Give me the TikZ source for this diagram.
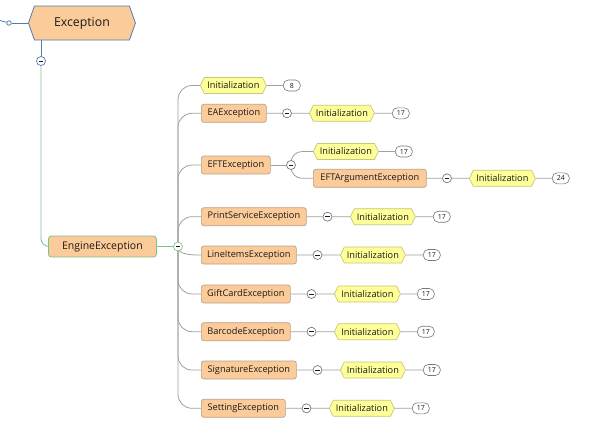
\documentclass[tikz,border=0pt]{standalone}
\usepackage{fontspec}
\setmainfont{Open Sans}
\usetikzlibrary{shapes.symbols,backgrounds}
\definecolor{peach}{RGB}{252,203,154}
\definecolor{oborder}{RGB}{185,160,135}
\definecolor{yfill}{RGB}{255,255,153}
\definecolor{yborder}{RGB}{200,198,120}
\definecolor{bborder}{RGB}{120,120,120}
\definecolor{gline}{RGB}{160,160,160}
\definecolor{grline}{RGB}{120,196,140}
\definecolor{bline}{RGB}{80,125,175}
\definecolor{txt}{RGB}{26,26,26}
\begin{document}
\begin{tikzpicture}[x=1bp,y=-1bp,
  every node/.style={font=\fontsize{9.2bp}{11bp}\selectfont, text=txt},
  obox/.style={rectangle, rounded corners=2.5bp, draw=oborder, fill=peach, minimum height=18bp, inner sep=0pt, anchor=west, line width=0.7bp},
  yhex/.style={signal, signal to=east and west, signal pointer angle=128, draw=yborder, fill=yfill, minimum height=16bp, inner sep=0pt, anchor=west, line width=0.7bp},
  badge/.style={rectangle, rounded corners=5bp, draw=bborder, fill=white, minimum width=17bp, minimum height=11bp, inner sep=0pt, font=\fontsize{7bp}{8bp}\selectfont, anchor=west, line width=0.6bp},
  mcirc/.style={circle, draw=bborder, fill=white, minimum size=9bp, inner sep=0pt, line width=0.7bp,
    path picture={\draw[line width=0.9bp, txt] ([xshift=-2.2bp]path picture bounding box.center) -- ([xshift=2.2bp]path picture bounding box.center);}},
  conn/.style={draw=gline, line width=0.8bp},
  trunk/.style={conn, rounded corners=14bp}
]
\useasboundingbox (0,0) rectangle (591,428);

% root
\node[signal, signal to=east and west, signal pointer angle=141, draw=bline, fill=peach, minimum width=107bp, minimum height=34bp, inner sep=0pt, anchor=west, line width=0.8bp, font=\fontsize{12.3bp}{14bp}\selectfont] (exc) at (28,23) {Exception};
\node[circle, draw=bline, fill=white, minimum size=4.5bp, inner sep=0pt, line width=0.8bp] (oc) at (9,23) {};
\coordinate (lt) at (0,20.5);
\node[mcirc, draw=bline] (xc) at (41,61) {};
\node[rectangle, rounded corners=3bp, draw=grline, fill=peach, minimum width=108bp, minimum height=21bp, inner sep=0pt, anchor=west, line width=0.8bp, font=\fontsize{10.5bp}{12bp}\selectfont] (eng) at (48,246.5) {EngineException};
\node[mcirc, draw=grline] (ec) at (178,246.5) {};

% row 0
\node[yhex, minimum width=66bp] (i0) at (200,85.5) {Initialization};
\node[badge] (b0) at (283,85.5) {8};
% EA
\node[obox, minimum width=65bp] (ea) at (201,113.3) {EAException};
\node[mcirc] (c1) at (287,113.3) {};
\node[yhex, minimum width=65bp] (i1) at (309,113.3) {Initialization};
\node[badge] (b1) at (392,113.3) {17};
% EFT
\node[obox, minimum width=69bp] (eft) at (201,165) {EFTException};
\node[mcirc] (c2) at (291,165) {};
\node[yhex, minimum width=65bp] (i2) at (313,151.5) {Initialization};
\node[badge] (b2) at (395,151.5) {17};
\node[obox, minimum width=113bp] (efta) at (313,178.3) {EFTArgumentException};
\node[mcirc] (c3) at (447,178.3) {};
\node[yhex, minimum width=66bp] (i3) at (469,178.3) {Initialization};
\node[badge] (b3) at (552,178.3) {24};
% PrintService
\node[obox, minimum width=105bp] (ps) at (201,216.7) {PrintServiceException};
\node[mcirc] (c4) at (327.5,216.7) {};
\node[yhex, minimum width=65bp] (i4) at (350,216.7) {Initialization};
\node[badge] (b4) at (433,216.7) {17};
% LineItems
\node[obox, minimum width=95bp] (li) at (201,255) {LineItemsException};
\node[mcirc] (c5) at (317.5,255) {};
\node[yhex, minimum width=65bp] (i5) at (340,255) {Initialization};
\node[badge] (b5) at (423,255) {17};
% GiftCard
\node[obox, minimum width=89bp] (gc) at (201,294) {GiftCardException};
\node[mcirc] (c6) at (311.5,294) {};
\node[yhex, minimum width=66bp] (i6) at (334,294) {Initialization};
\node[badge] (b6) at (417,294) {17};
% Barcode
\node[obox, minimum width=89bp] (bc) at (201,331.7) {BarcodeException};
\node[mcirc] (c7) at (311.5,331.7) {};
\node[yhex, minimum width=66bp] (i7) at (334,331.7) {Initialization};
\node[badge] (b7) at (417,331.7) {17};
% Signature
\node[obox, minimum width=95bp] (sg) at (201,370) {SignatureException};
\node[mcirc] (c8) at (317.5,370) {};
\node[yhex, minimum width=65bp] (i8) at (340,370) {Initialization};
\node[badge] (b8) at (423,370) {17};
% Setting
\node[obox, minimum width=84bp] (st) at (201,408.3) {SettingException};
\node[mcirc] (c9) at (306.5,408.3) {};
\node[yhex, minimum width=65bp] (i9) at (329,408.3) {Initialization};
\node[badge] (b9) at (412,408.3) {17};

\begin{pgfonlayer}{background}
\fill[white] (0,0) rectangle (591,428);
% root connectors
\draw[draw=bline, line width=0.8bp] (lt) -- (oc);
\draw[draw=bline, line width=0.8bp] (oc) -- (exc.west);
\draw[draw=bline, line width=0.8bp] (xc |- exc.south) -- (xc);
\draw[draw=grline, line width=0.8bp, rounded corners=8bp] (xc) |- (eng.west);
\draw[draw=grline, line width=0.8bp] (eng) -- (ec);
% trunk
\foreach \n in {i0,ea,eft,ps,gc,bc,sg,st}{\draw[trunk] (ec.center) |- (\n.west);}
\draw[conn] (ec.center) .. controls +(0,8) and +(-12,0) .. (li.west);
% EFT fork
\draw[conn, rounded corners=11bp] (c2.center) |- (i2.west);
\draw[conn, rounded corners=11bp] (c2.center) |- (efta.west);
% rows
\draw[conn] (i0) -- (b0);
\draw[conn] (ea) -- (c1) -- (i1) -- (b1);
\draw[conn] (eft) -- (c2);
\draw[conn] (i2) -- (b2);
\draw[conn] (efta) -- (c3) -- (i3) -- (b3);
\draw[conn] (ps) -- (c4) -- (i4) -- (b4);
\draw[conn] (li) -- (c5) -- (i5) -- (b5);
\draw[conn] (gc) -- (c6) -- (i6) -- (b6);
\draw[conn] (bc) -- (c7) -- (i7) -- (b7);
\draw[conn] (sg) -- (c8) -- (i8) -- (b8);
\draw[conn] (st) -- (c9) -- (i9) -- (b9);
\end{pgfonlayer}
\end{tikzpicture}
\end{document}
